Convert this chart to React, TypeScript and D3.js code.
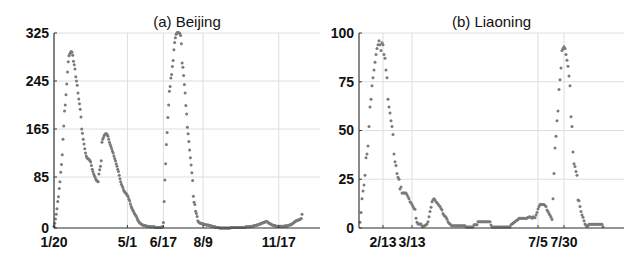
import React from 'react';
import * as d3 from 'd3';

// Beijing: one value per day, day 0 = 1/20
const beijingValues = [
  3, 8, 15, 23, 32, 44, 52, 66, 77, 93,
  106, 122, 148, 170, 195, 205, 222, 240, 260, 277,
  287, 290, 292, 294, 293, 288, 278, 272, 265, 252,
  245, 238, 225, 215, 207, 198, 185, 165, 158, 148,
  140, 132, 125, 120, 117, 116, 115, 114, 112, 110,
  104, 98, 94, 90, 87, 84, 81, 79, 78, 77,
  90, 97, 103, 112, 143, 148, 151, 154, 156, 157,
  157, 156, 153, 148, 143, 139, 136, 132, 128, 125,
  120, 116, 112, 107, 103, 98, 94, 88, 82, 77,
  73, 70, 67, 63, 61, 59, 58, 56, 54, 52,
  48, 45, 40, 36, 33, 30, 28, 25, 23, 21,
  19, 16, 13, 11, 9, 8, 7, 6, 5, 5,
  4, 4, 4, 3, 3, 3, 3, 2, 2, 2,
  2, 2, 2, 2, 2, 1, 1, 1, 1, 1,
  1, 1, 1, 1, 2, 2, 9, 44, 80, 107,
  139, 159, 184, 205, 228, 236, 250, 256, 269, 279,
  297, 309, 317, 323, 325, 326, 326, 325, 324, 321,
  307, 275, 268, 254, 239, 225, 204, 190, 168, 157,
  144, 130, 117, 105, 92, 79, 53, 43, 39, 28,
  24, 19, 12, 10, 9, 8, 8, 7, 7, 7,
  6, 6, 6, 5, 5, 5, 5, 4, 4, 4,
  3, 3, 3, 2, 2, 2, 1, 1, 1, 1,
  1, 0, 0, 0, 0, 0, 0, 0, 0, 0,
  0, 0, 0, 0, 0, 0, 1, 1, 1, 1,
  1, 1, 1, 1, 1, 1, 1, 1, 1, 1,
  1, 1, 1, 1, 1, 1, 2, 2, 2, 2,
  2, 2, 2, 3, 3, 3, 3, 4, 4, 4,
  5, 5, 5, 6, 6, 7, 7, 8, 8, 9,
  9, 10, 10, 11, 11, 10, 9, 8, 7, 7,
  6, 5, 5, 4, 4, 4, 3, 3, 3, 3,
  3, 3, 3, 3, 3, 3, 3, 3, 3, 4,
  3, 3, 4, 4, 5, 5, 6, 6, 7, 8,
  9, 10, 11, 12, 12, 13, 13, 14, 14, 15, 16, 23,
];
const beijingFirstDay = 0;
const beijingTickDays = [0, 98, 146, 199, 300];
const beijingTickLabels = ['1/20', '5/1', '6/17', '8/9', '11/17'];
const beijingYTicks = [0, 85, 165, 245, 325];

// Liaoning: one value per day, starting at day 1
const liaoningValues = [
  3, 8, 15, 19, 22, 27, 36, 38, 42, 52,
  62, 66, 73, 77, 81, 85, 89, 92, 94, 96,
  94, 91, 95, 94, 89, 87, 81, 77, 66, 62,
  59, 55, 52, 48, 38, 34, 32, 28, 26, 25,
  20, 21, 18, 18, 18, 18, 18, 17, 16, 15,
  13.5, 13, 12, 11, 10, 9.6, 5, 3, 2, 2,
  2, 2, 1, 0.7, 1, 1.3, 1.7, 2, 3.2, 5.8,
  8.4, 10.6, 13.5, 14.5, 15, 14.4, 13.5, 13, 12.3, 11.5,
  11, 10, 9.2, 7.5, 6.5, 6, 5.5, 4.5, 3.2, 2.5,
  2, 1.5, 1.2, 1.2, 1.2, 1.2, 1.2, 1.2, 1.2, 1.2,
  1.2, 1.2, 1.2, 1.2, 1.2, 1.2, 0.5, 0.5, 0.5, 0.5,
  0.5, 0.5, 0.5, 0.5, 1.7, 1.7, 1.7, 1.7, 3.2, 3.2,
  3.2, 3.2, 3.2, 3.2, 3.2, 3.2, 3.2, 3.2, 3.2, 3.2,
  3.2, 1.5, 0.5, 0.5, 0.5, 0.5, 0.5, 0.5, 0.5, 0.5,
  0.5, 0.5, 0.5, 0.5, 0.5, 0.5, 0.5, 0.5, 0.5, 0.5,
  0.5, 1.7, 2, 2.4, 3, 3.2, 3.7, 4, 4.4, 5,
  5, 5, 5, 5, 5, 5, 5, 5, 5.5, 5.6,
  5.8, 5.4, 5, 5.8, 5.4, 5.2, 6.7, 8, 9.7, 11,
  12, 12, 12, 12, 12, 11.5, 11, 9.2, 8.5, 7.5,
  6.5, 5.5, 4.3, 15, 28, 41, 47, 55, 60, 71,
  76, 82, 91, 92, 93, 92, 89, 86, 83, 78,
  73, 57, 52, 39, 33, 31.6, 29, 27, 14.4, 14,
  11, 8.4, 6.7, 5.5, 3.7, 2, 1.4, 0.7, 1.2, 1.9,
  1.9, 1.9, 1.9, 1.9, 1.9, 1.9, 1.9, 1.9, 1.9, 1.9,
  1.9, 1.9, 1.9, 0.7,
];
const liaoningFirstDay = 1;
const liaoningTickDays = [24, 53, 179, 205];
const liaoningTickLabels = ['2/13', '3/13', '7/5', '7/30'];
const liaoningYTicks = [0, 25, 50, 75, 100];

const FONT = '"Liberation Sans", Arial, Helvetica, sans-serif';

type PanelProps = {
  title: string;
  values: number[];
  firstDay: number;
  dayMax: number;
  yMax: number;
  yTicks: number[];
  xTickDays: number[];
  xTickLabels: string[];
  left: number;
  right: number;
};

function Panel(p: PanelProps) {
  const top = 33;
  const bottom = 228;
  const x = d3.scaleLinear().domain([0, p.dayMax]).range([p.left, p.right]);
  const y = d3.scaleLinear().domain([0, p.yMax]).range([bottom, top]);
  const grid = '#dedede';
  const axis = '#3a3a3a';
  return (
    <g>
      {p.yTicks.map((t) => (
        <line key={'gy' + t} x1={p.left} x2={p.right} y1={y(t)} y2={y(t)} stroke={grid} strokeWidth={1} />
      ))}
      {p.xTickDays.map((t) => (
        <line key={'gx' + t} x1={x(t)} x2={x(t)} y1={top} y2={bottom} stroke={grid} strokeWidth={1} />
      ))}
      {p.values.map((v, i) => (
        <circle key={i} cx={x(i + p.firstDay)} cy={y(v)} r={1.5} fill="#7a7a7a" />
      ))}
      <line x1={p.left} x2={p.left} y1={top} y2={bottom} stroke={axis} strokeWidth={1.2} />
      <line x1={p.left} x2={p.right} y1={bottom} y2={bottom} stroke={axis} strokeWidth={1.2} />
      {p.yTicks.map((t) => (
        <g key={'ty' + t}>
          <line x1={p.left} x2={p.left + 3} y1={y(t)} y2={y(t)} stroke={axis} strokeWidth={1} />
          <text x={p.left - 5} y={y(t)} dy="0.35em" textAnchor="end" fontFamily={FONT} fontWeight="bold" fontSize={14} fill="#111">
            {t}
          </text>
        </g>
      ))}
      {p.xTickDays.map((t, i) => (
        <g key={'tx' + t}>
          <line x1={x(t)} x2={x(t)} y1={bottom} y2={bottom - 3} stroke={axis} strokeWidth={1} />
          <text x={x(t)} y={246.5} textAnchor="middle" fontFamily={FONT} fontWeight="bold" fontSize={14} fill="#111">
            {p.xTickLabels[i]}
          </text>
        </g>
      ))}
      <text x={(p.left + p.right) / 2} y={26.5} textAnchor="middle" fontFamily={FONT} fontSize={15} fill="#111">
        {p.title}
      </text>
    </g>
  );
}

export default function App() {
  return (
    <svg width={644} height={265} style={{ position: 'absolute', left: 0, top: 0, background: '#fff' }}>
      <Panel
        title="(a) Beijing"
        values={beijingValues}
        firstDay={beijingFirstDay}
        dayMax={355}
        yMax={325}
        yTicks={beijingYTicks}
        xTickDays={beijingTickDays}
        xTickLabels={beijingTickLabels}
        left={54}
        right={320}
      />
      <Panel
        title="(b) Liaoning"
        values={liaoningValues}
        firstDay={liaoningFirstDay}
        dayMax={265}
        yMax={100}
        yTicks={liaoningYTicks}
        xTickDays={liaoningTickDays}
        xTickLabels={liaoningTickLabels}
        left={359}
        right={624}
      />
    </svg>
  );
}
